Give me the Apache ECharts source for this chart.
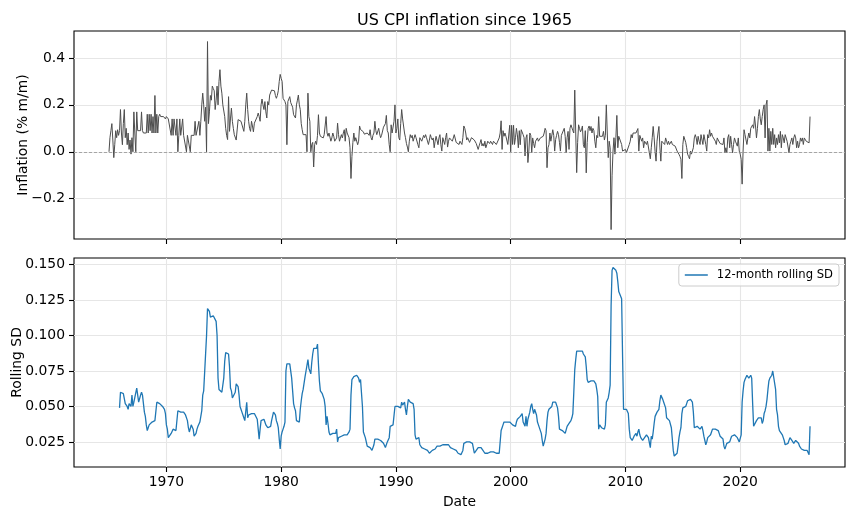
<!DOCTYPE html>
<html>
<head>
<meta charset="utf-8">
<title>US CPI inflation since 1965</title>
<script src="https://cdn.jsdelivr.net/npm/echarts@6/dist/echarts.min.js"></script>
<style>
  html, body { margin: 0; padding: 0; background: #fff; }
  #chart { width: 854px; height: 518px; }
</style>
</head>
<body>
<div id="chart"></div>
<script>
// Monthly series, first value = Jan 1965
const START_YEAR = 1965;
const SD_START = 11; // first month with a full 12-month window (Dec 1965)

// CPI inflation, % m/m (one row per year)
const inflation = [
  0.00, 0.06, 0.09, 0.12, 0.05, -0.025, 0.03, 0.09, 0.06, 0.094, 0.07, 0.09, // 1965
  0.18, 0.08, 0.03, 0.12, 0.18, 0.06, 0.10, 0.03, 0.08, 0.01, 0.05, -0.01,
  0.06, 0.00, 0.17, 0.08, 0.00, 0.17, 0.09, 0.09, 0.09, 0.09, 0.17, 0.09,
  0.08, 0.08, 0.08, 0.08, 0.16, 0.08, 0.16, 0.09, 0.16, 0.08, 0.15, 0.08,
  0.24, 0.08, 0.16, 0.08, 0.15, 0.16, 0.15, 0.15, 0.15, 0.15, 0.15, 0.14,
  0.15, 0.15, 0.14, 0.14, 0.14, 0.07, 0.14, 0.07, 0.14, 0.14, 0.07, 0.14, // 1970
  0.00, 0.07, 0.14, 0.07, 0.07, 0.14, 0.07, 0.07, 0.07, 0.00, 0.07, 0.07,
  0.07, 0.00, 0.07, 0.07, 0.07, 0.07, 0.13, 0.07, 0.07, 0.07, 0.13, 0.07,
  0.13, 0.20, 0.25, 0.20, 0.13, 0.19, 0.00, 0.47, 0.12, 0.17, 0.24, 0.22,
  0.28, 0.27, 0.26, 0.18, 0.22, 0.28, 0.20, 0.30, 0.35, 0.28, 0.25, 0.20,
  0.20, 0.15, 0.10, 0.07, 0.052, 0.235, 0.087, 0.14, 0.186, 0.13, 0.10, 0.073, // 1975
  0.073, 0.05, 0.045, 0.137, 0.13, 0.13, 0.13, 0.13, 0.13, 0.087, 0.13, 0.20,
  0.25, 0.18, 0.13, 0.10, 0.087, 0.13, 0.11, 0.085, 0.122, 0.12, 0.115, 0.15,
  0.165, 0.15, 0.13, 0.20, 0.225, 0.20, 0.18, 0.214, 0.17, 0.144, 0.214, 0.20,
  0.242, 0.25, 0.263, 0.26, 0.26, 0.26, 0.24, 0.228, 0.24, 0.26, 0.30, 0.33,
  0.313, 0.30, 0.228, 0.22, 0.214, 0.20, 0.03, 0.214, 0.22, 0.235, 0.21, 0.214, // 1980
  0.19, 0.158, 0.15, 0.144, 0.20, 0.22, 0.242, 0.20, 0.18, 0.12, 0.094, 0.073,
  0.073, 0.073, 0.073, 0.00, 0.25, 0.15, 0.13, 0.00, 0.031, 0.04, -0.065, 0.03,
  0.045, 0.031, 0.07, 0.158, 0.08, 0.066, 0.073, 0.066, 0.059, 0.073, 0.08, 0.15,
  0.08, 0.066, 0.08, 0.073, 0.045, 0.059, 0.08, 0.066, 0.045, 0.052, 0.059, 0.122,
  0.073, 0.045, 0.045, 0.073, 0.059, 0.08, 0.094, 0.045, 0.10, 0.08, 0.08, 0.06, // 1985
  0.017, -0.114, -0.02, 0.04, 0.08, 0.045, 0.06, 0.06, 0.03, 0.045, 0.11, 0.095,
  0.095, 0.09, 0.085, 0.075, 0.08, 0.07, 0.08, 0.08, 0.07, 0.094, 0.06, 0.05,
  0.07, 0.08, 0.13, 0.09, 0.073, 0.08, 0.10, 0.076, 0.06, 0.07, 0.066, 0.105,
  0.10, 0.12, 0.155, 0.09, 0.08, 0.03, 0.00, 0.115, 0.08, 0.073, 0.13, 0.20,
  0.08, 0.10, 0.14, 0.06, 0.05, 0.12, 0.18, 0.14, 0.14, 0.08, 0.06, 0.035, // 1990
  0.02, 0.00, 0.045, 0.073, 0.06, 0.07, 0.045, 0.05, 0.073, 0.06, 0.065, 0.03,
  0.017, 0.06, 0.066, 0.045, 0.05, 0.07, 0.06, 0.073, 0.06, 0.065, 0.031, 0.05,
  0.073, 0.06, 0.05, 0.059, 0.017, 0.045, 0.066, 0.059, 0.03, 0.059, 0.073, 0.03,
  0.003, 0.06, 0.066, 0.031, 0.06, 0.08, 0.02, 0.045, 0.059, 0.06, 0.06, 0.045,
  0.05, 0.073, 0.066, 0.04, 0.035, 0.04, 0.031, 0.045, 0.04, 0.031, 0.06, 0.11, // 1995
  0.10, 0.08, 0.05, 0.06, 0.066, 0.04, 0.035, 0.06, 0.066, 0.06, 0.05, 0.052,
  0.035, 0.031, 0.01, 0.025, 0.038, 0.052, 0.025, 0.035, 0.024, 0.045, 0.017, 0.03,
  0.045, 0.045, 0.035, 0.045, 0.045, 0.031, 0.045, 0.038, 0.045, 0.031, 0.038, 0.031,
  0.059, 0.08, 0.132, 0.01, 0.09, 0.066, 0.08, 0.066, 0.059, 0.031, 0.03, 0.113,
  0.00, 0.113, 0.031, 0.113, 0.031, 0.06, 0.10, 0.072, 0.017, 0.09, 0.03, 0.094, // 2000
  0.09, 0.073, 0.06, -0.018, 0.059, 0.073, -0.046, 0.003, 0.08, 0.07, -0.004, 0.059,
  0.035, 0.017, 0.045, 0.045, 0.059, 0.045, 0.05, 0.059, 0.052, 0.059, 0.066, 0.08,
  0.10, 0.09, -0.068, 0.017, 0.03, 0.08, 0.045, 0.045, 0.094, 0.07, 0.003, 0.052,
  0.07, 0.087, 0.073, 0.04, 0.003, 0.07, 0.073, 0.073, 0.10, 0.065, -0.004, 0.06,
  0.087, 0.01, 0.10, 0.115, 0.115, 0.09, 0.08, 0.263, 0.08, -0.089, 0.04, 0.115, // 2005
  0.10, 0.085, 0.094, 0.11, 0.03, 0.017, 0.09, -0.09, 0.04, 0.10, 0.11, 0.09,
  0.108, 0.08, 0.10, 0.09, 0.045, 0.017, 0.07, 0.06, 0.15, 0.066, 0.07, 0.066,
  0.066, 0.087, 0.05, 0.07, 0.20, 0.08, -0.025, 0.045, 0.017, -0.332, -0.10, 0.003,
  0.06, -0.01, 0.06, 0.155, 0.017, 0.066, 0.059, 0.066, 0.031, 0.003, 0.01, 0.003,
  0.01, -0.004, -0.004, 0.003, 0.031, 0.045, 0.073, 0.059, 0.08, 0.073, 0.085, 0.08, // 2010
  0.08, 0.099, 0.003, 0.07, 0.066, 0.045, 0.059, 0.017, 0.045, 0.045, 0.031, 0.045,
  0.045, 0.045, -0.03, 0.017, 0.06, 0.108, 0.059, 0.00, -0.04, 0.045, 0.08, 0.108,
  0.02, -0.04, 0.045, 0.045, 0.045, 0.031, 0.059, 0.045, 0.031, 0.045, 0.031, 0.031,
  0.045, 0.031, 0.031, 0.031, 0.024, 0.024, 0.003, 0.003, -0.011, -0.02, -0.032, -0.114,
  0.031, 0.066, 0.059, 0.04, 0.017, -0.01, -0.02, -0.03, 0.003, -0.01, -0.01, 0.017, // 2015
  0.059, 0.073, 0.059, 0.031, 0.066, 0.045, 0.031, 0.073, 0.073, 0.031, 0.073, 0.073,
  0.031, 0.003, 0.073, 0.059, 0.094, 0.066, 0.08, 0.066, 0.073, 0.059, 0.045, 0.031,
  0.059, 0.05, 0.045, 0.035, 0.031, 0.031, 0.031, 0.059, -0.004, 0.017, -0.004, 0.059,
  0.073, 0.017, 0.066, 0.03, -0.004, 0.031, 0.059, 0.045, 0.045, 0.024, 0.059, 0.003,
  -0.01, -0.032, -0.138, 0.003, 0.094, 0.073, 0.08, 0.031, 0.059, 0.08, 0.059, 0.10, // 2020
  0.10, 0.115, 0.10, 0.15, 0.11, 0.059, 0.10, 0.15, 0.18, 0.14, 0.115, 0.15,
  0.18, 0.20, 0.059, 0.20, 0.22, 0.003, 0.10, 0.003, 0.087, 0.031, 0.10, 0.031,
  0.073, 0.017, 0.059, 0.031, 0.073, 0.038, 0.087, 0.017, 0.073, 0.059, 0.038, 0.073,
  0.073, 0.045, 0.052, -0.004, 0.031, 0.045, 0.059, 0.031, 0.059, 0.073, 0.059, 0.017,
  0.045, 0.017, 0.031, 0.059, 0.045, 0.059, 0.031, 0.059, 0.059, 0.045, 0.052, 0.038, // 2025
  0.038, 0.15
];

// 12-month rolling standard deviation, starting Dec 1965
const rollingSd = [
  0.049, // 1965
  0.060, 0.060, 0.060, 0.059, 0.059, 0.052, 0.051, 0.050, 0.048, 0.052, 0.052, 0.050,
  0.058, 0.050, 0.053, 0.053, 0.053, 0.063, 0.063, 0.053, 0.053, 0.058, 0.060, 0.058,
  0.052, 0.046, 0.043, 0.037, 0.033, 0.035, 0.037, 0.037, 0.036, 0.039, 0.039, 0.040,
  0.040, 0.041, 0.053, 0.053, 0.053, 0.052, 0.052, 0.051, 0.050, 0.050, 0.048, 0.045,
  0.037, 0.034, 0.028, 0.028, 0.028, 0.031, 0.032, 0.034, 0.033, 0.033, 0.033, 0.033, // 1970
  0.047, 0.047, 0.047, 0.046, 0.046, 0.046, 0.046, 0.046, 0.044, 0.043, 0.040, 0.035,
  0.032, 0.031, 0.037, 0.038, 0.034, 0.029, 0.028, 0.031, 0.034, 0.036, 0.037, 0.039,
  0.040, 0.047, 0.058, 0.061, 0.060, 0.062, 0.100, 0.119, 0.119, 0.117, 0.113, 0.114,
  0.113, 0.114, 0.115, 0.113, 0.110, 0.100, 0.070, 0.062, 0.062, 0.061, 0.060, 0.061,
  0.070, 0.082, 0.088, 0.089, 0.089, 0.087, 0.078, 0.063, 0.061, 0.056, 0.055, 0.055, // 1975
  0.060, 0.066, 0.067, 0.064, 0.058, 0.050, 0.048, 0.046, 0.046, 0.042, 0.040, 0.040,
  0.053, 0.042, 0.044, 0.043, 0.044, 0.045, 0.046, 0.046, 0.045, 0.045, 0.045, 0.041,
  0.034, 0.027, 0.034, 0.040, 0.041, 0.041, 0.041, 0.039, 0.037, 0.036, 0.035, 0.035,
  0.035, 0.036, 0.040, 0.041, 0.046, 0.047, 0.044, 0.040, 0.038, 0.035, 0.027, 0.020,
  0.029, 0.032, 0.034, 0.036, 0.039, 0.075, 0.080, 0.080, 0.080, 0.080, 0.079, 0.070, // 1980
  0.061, 0.052, 0.049, 0.047, 0.040, 0.039, 0.039, 0.039, 0.048, 0.054, 0.059, 0.062,
  0.063, 0.071, 0.075, 0.074, 0.083, 0.077, 0.075, 0.073, 0.081, 0.087, 0.091, 0.092,
  0.091, 0.091, 0.094, 0.080, 0.068, 0.061, 0.060, 0.059, 0.058, 0.055, 0.050, 0.037,
  0.043, 0.038, 0.032, 0.030, 0.031, 0.031, 0.031, 0.031, 0.031, 0.031, 0.034, 0.025,
  0.028, 0.029, 0.029, 0.029, 0.029, 0.030, 0.030, 0.030, 0.030, 0.030, 0.030, 0.032, // 1985
  0.034, 0.058, 0.069, 0.070, 0.071, 0.072, 0.072, 0.072, 0.071, 0.070, 0.067, 0.069,
  0.068, 0.050, 0.032, 0.031, 0.028, 0.025, 0.022, 0.022, 0.022, 0.021, 0.020, 0.019,
  0.020, 0.023, 0.027, 0.027, 0.027, 0.027, 0.027, 0.027, 0.026, 0.026, 0.025, 0.024,
  0.023, 0.021, 0.020, 0.025, 0.026, 0.028, 0.036, 0.037, 0.037, 0.037, 0.037, 0.050,
  0.049, 0.049, 0.050, 0.051, 0.049, 0.049, 0.053, 0.051, 0.050, 0.053, 0.048, 0.044, // 1990
  0.050, 0.055, 0.054, 0.053, 0.054, 0.053, 0.052, 0.048, 0.030, 0.027, 0.028, 0.028,
  0.028, 0.023, 0.022, 0.021, 0.021, 0.020, 0.020, 0.020, 0.020, 0.019, 0.018, 0.017,
  0.017, 0.018, 0.019, 0.019, 0.020, 0.020, 0.021, 0.022, 0.022, 0.022, 0.022, 0.023,
  0.023, 0.023, 0.022, 0.023, 0.023, 0.024, 0.024, 0.023, 0.022, 0.021, 0.021, 0.021,
  0.020, 0.020, 0.019, 0.019, 0.018, 0.017, 0.016, 0.016, 0.016, 0.017, 0.019, 0.024, // 1995
  0.025, 0.025, 0.025, 0.025, 0.025, 0.025, 0.025, 0.025, 0.024, 0.023, 0.017, 0.018,
  0.019, 0.020, 0.021, 0.022, 0.022, 0.021, 0.020, 0.019, 0.018, 0.017, 0.016, 0.016,
  0.017, 0.018, 0.018, 0.018, 0.017, 0.018, 0.018, 0.017, 0.017, 0.017, 0.017, 0.017,
  0.017, 0.016, 0.033, 0.035, 0.037, 0.039, 0.039, 0.040, 0.039, 0.040, 0.040, 0.039,
  0.039, 0.038, 0.037, 0.036, 0.036, 0.036, 0.039, 0.041, 0.041, 0.041, 0.043, 0.044, // 2000
  0.045, 0.039, 0.038, 0.036, 0.043, 0.036, 0.041, 0.042, 0.046, 0.050, 0.052, 0.048,
  0.045, 0.048, 0.048, 0.044, 0.039, 0.037, 0.037, 0.036, 0.031, 0.026, 0.022, 0.022,
  0.027, 0.031, 0.040, 0.046, 0.048, 0.049, 0.049, 0.050, 0.053, 0.054, 0.054, 0.053,
  0.052, 0.049, 0.043, 0.034, 0.033, 0.033, 0.033, 0.032, 0.032, 0.031, 0.031, 0.036,
  0.037, 0.038, 0.039, 0.040, 0.042, 0.045, 0.060, 0.076, 0.083, 0.089, 0.089, 0.089, // 2005
  0.089, 0.090, 0.090, 0.089, 0.087, 0.086, 0.085, 0.078, 0.069, 0.067, 0.068, 0.068,
  0.068, 0.068, 0.068, 0.068, 0.067, 0.066, 0.062, 0.057, 0.034, 0.037, 0.038, 0.035,
  0.036, 0.036, 0.034, 0.037, 0.053, 0.054, 0.056, 0.060, 0.065, 0.121, 0.146, 0.148,
  0.148, 0.148, 0.146, 0.144, 0.138, 0.131, 0.130, 0.132, 0.126, 0.085, 0.048, 0.047,
  0.048, 0.048, 0.047, 0.045, 0.034, 0.028, 0.027, 0.026, 0.026, 0.029, 0.030, 0.031, // 2010
  0.029, 0.032, 0.034, 0.030, 0.028, 0.027, 0.026, 0.027, 0.028, 0.029, 0.030, 0.029,
  0.028, 0.027, 0.021, 0.029, 0.027, 0.032, 0.038, 0.043, 0.044, 0.046, 0.046, 0.048,
  0.054, 0.058, 0.057, 0.055, 0.053, 0.052, 0.049, 0.042, 0.041, 0.041, 0.040, 0.039,
  0.035, 0.027, 0.019, 0.015, 0.014, 0.014, 0.017, 0.022, 0.028, 0.032, 0.035, 0.045,
  0.049, 0.049, 0.050, 0.050, 0.052, 0.054, 0.054, 0.054, 0.055, 0.054, 0.053, 0.046, // 2015
  0.035, 0.034, 0.036, 0.036, 0.036, 0.035, 0.034, 0.035, 0.036, 0.033, 0.029, 0.030,
  0.023, 0.025, 0.028, 0.027, 0.028, 0.030, 0.032, 0.034, 0.035, 0.035, 0.034, 0.034,
  0.034, 0.033, 0.031, 0.029, 0.028, 0.028, 0.027, 0.022, 0.020, 0.022, 0.024, 0.024,
  0.023, 0.025, 0.027, 0.029, 0.030, 0.030, 0.030, 0.030, 0.029, 0.028, 0.027, 0.025,
  0.025, 0.030, 0.053, 0.061, 0.067, 0.069, 0.070, 0.072, 0.071, 0.070, 0.071, 0.072, // 2020
  0.070, 0.052, 0.036, 0.036, 0.037, 0.040, 0.041, 0.042, 0.042, 0.041, 0.042, 0.038,
  0.040, 0.045, 0.047, 0.050, 0.055, 0.062, 0.068, 0.070, 0.069, 0.072, 0.075, 0.075,
  0.074, 0.062, 0.048, 0.044, 0.036, 0.033, 0.032, 0.032, 0.030, 0.028, 0.026, 0.023,
  0.022, 0.022, 0.024, 0.025, 0.028, 0.029, 0.026, 0.025, 0.024, 0.025, 0.026, 0.027,
  0.025, 0.024, 0.022, 0.021, 0.020, 0.019, 0.019, 0.019, 0.019, 0.019, 0.019, 0.019, // 2025
  0.016, 0.036
];

// Axis ticks
const yearTicks = [1970, 1980, 1990, 2000, 2010, 2020];
const inflationTicks = [-0.2, 0.0, 0.2, 0.4];
const sdTicks = [0.025, 0.05, 0.075, 0.1, 0.125, 0.15];

const FONT = "DejaVu Sans";
const GRID_COLOR = "#e6e6e6";

function mesAFecha(i) {
  return START_YEAR + i / 12;
}

// eje x compartido (mismo rango en los dos paneles)
function ejeX(gridIndex, conEtiquetas) {
  return {
    type: "value",
    gridIndex,
    min: 1961.95,
    max: 2029.13,
    name: conEtiquetas ? "Date" : "",
    nameLocation: "middle",
    nameGap: 28,
    nameMoveOverlap: false,
    nameTextStyle: { fontFamily: FONT, fontSize: 13.9, color: "#000" },
    axisLine: { show: false, onZero: false },
    axisTick: {
      show: true,
      customValues: yearTicks,
      length: 5,
      lineStyle: { color: "#000", width: 1.1 },
    },
    axisLabel: {
      show: conEtiquetas,
      customValues: yearTicks,
      margin: 8,
      fontFamily: FONT,
      fontSize: 13.9,
      color: "#000",
      formatter: (v) => String(Math.round(v)),
    },
    splitLine: { show: true, lineStyle: { color: GRID_COLOR, width: 1.1 } },
  };
}

function ejeY(gridIndex, opts) {
  return {
    type: "value",
    gridIndex,
    min: opts.min,
    max: opts.max,
    name: opts.name,
    nameLocation: "middle",
    nameGap: opts.nameGap,
    nameMoveOverlap: false,
    nameTextStyle: { fontFamily: FONT, fontSize: 13.9, color: "#000" },
    axisLine: { show: false, onZero: false },
    axisTick: {
      show: true,
      customValues: opts.ticks,
      length: 5,
      lineStyle: { color: "#000", width: 1.1 },
    },
    axisLabel: {
      customValues: opts.ticks,
      margin: 9,
      fontFamily: FONT,
      fontSize: 13.9,
      color: "#000",
      formatter: opts.formatter,
    },
    splitLine: { show: true, lineStyle: { color: GRID_COLOR, width: 1.1 } },
  };
}

function dibujarGrafica() {
  const chart = echarts.init(document.getElementById("chart"), null, {
    renderer: "canvas",
  });

  const datosInflacion = inflation.map((v, i) => [mesAFecha(i), v]);
  const datosSd = rollingSd.map((v, i) => [mesAFecha(i + SD_START), v]);

  chart.setOption({
    animation: false,
    backgroundColor: "#fff",
    title: {
      text: "US CPI inflation since 1965",
      left: 459.5,
      top: 8,
      textAlign: "center",
      textStyle: {
        fontFamily: FONT,
        fontSize: 16,
        fontWeight: "normal",
        color: "#000",
      },
    },
    legend: {
      data: [{ name: "12-month rolling SD", icon: "rect" }],
      right: 15,
      top: 264,
      padding: [5, 6, 5, 6],
      itemWidth: 23,
      itemHeight: 1.5,
      borderColor: "#cccccc",
      borderWidth: 1,
      borderRadius: 3,
      backgroundColor: "rgba(255,255,255,0.8)",
      textStyle: {
        fontFamily: FONT,
        fontSize: 11.6,
        color: "#000",
        padding: [0, 0, 0, 4],
      },
    },
    grid: [
      {
        left: 74, top: 31, width: 771, height: 208,
        outerBoundsMode: "none", containLabel: false,
        show: true, borderColor: "#000", borderWidth: 1.1,
      },
      {
        left: 74, top: 258, width: 771, height: 209,
        outerBoundsMode: "none", containLabel: false,
        show: true, borderColor: "#000", borderWidth: 1.1,
      },
    ],
    xAxis: [ejeX(0, false), ejeX(1, true)],
    yAxis: [
      ejeY(0, {
        min: -0.372,
        max: 0.515,
        ticks: inflationTicks,
        name: "Inflation (% m/m)",
        nameGap: 44,
        formatter: (v) => (v < 0 ? "\u2212" : "") + Math.abs(v).toFixed(1),
      }),
      ejeY(1, {
        min: 0.0073,
        max: 0.1547,
        ticks: sdTicks,
        name: "Rolling SD",
        nameGap: 50,
        formatter: (v) => v.toFixed(3),
      }),
    ],
    series: [
      {
        name: "Inflation",
        type: "line",
        xAxisIndex: 0,
        yAxisIndex: 0,
        data: datosInflacion,
        showSymbol: false,
        symbol: "none",
        lineStyle: { color: "#4d4d4d", width: 1.0 },
        markLine: {
          silent: true,
          symbol: "none",
          label: { show: false },
          lineStyle: { color: "#888", width: 0.7, type: [3, 2] },
          data: [{ yAxis: 0 }],
        },
      },
      {
        name: "12-month rolling SD",
        type: "line",
        xAxisIndex: 1,
        yAxisIndex: 1,
        data: datosSd,
        showSymbol: false,
        symbol: "none",
        color: "#1f77b4",
        lineStyle: { color: "#1f77b4", width: 1.3 },
      },
    ],
  });
}

document.addEventListener("DOMContentLoaded", dibujarGrafica);
</script>
</body>
</html>
